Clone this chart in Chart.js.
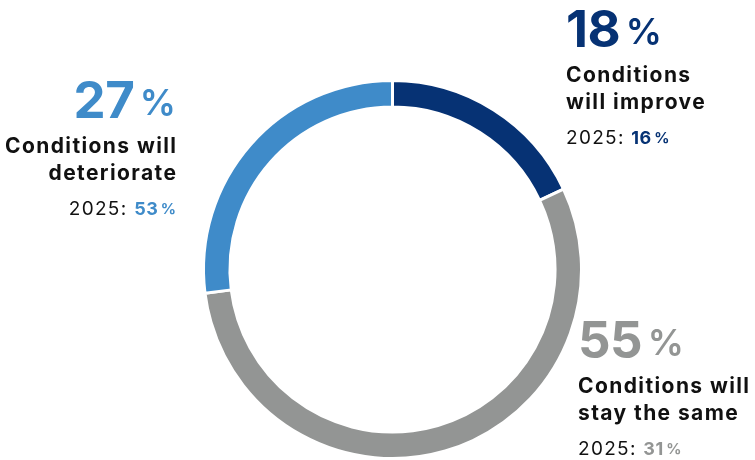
<!DOCTYPE html>
<html>
<head>
<meta charset="utf-8">
<script src="https://cdn.jsdelivr.net/npm/chart.js@4/dist/chart.umd.min.js"></script>
<style>
  html, body { margin: 0; padding: 0; background: #ffffff; }
  #wrap { width: 755px; height: 460px; }
</style>
</head>
<body>
<div id="wrap"><canvas id="c" width="755" height="460"></canvas></div>
<script>
// Outlook shares (percent), current survey and the 2025 comparison
const categories = ['Conditions will improve', 'Conditions will stay the same', 'Conditions will deteriorate'];
const labelLines = [['Conditions', 'will improve'], ['Conditions will', 'stay the same'], ['Conditions will', 'deteriorate']];
const shares = [18, 55, 27];
const shares2025 = [16, 31, 53];
const compareYear = '2025';
const sliceColors = ['#063274', '#939594', '#3f8bc9'];

const FONT = 'Inter, "Noto Sans", sans-serif';

// Text blocks placed around the ring: anchor x, baseline of the big figure, alignment
const blocks = [
  { x: 566, y: 47, align: 'left' },
  { x: 578, y: 358, align: 'left' },
  { x: 176, y: 118, align: 'right' }
];

function textWidth(ctx, s, font, spacing) {
  ctx.font = font;
  ctx.letterSpacing = spacing + 'px';
  // trailing spacing after the last glyph is not visible
  return ctx.measureText(s).width - (s.length ? spacing : 0);
}

function drawText(ctx, s, x, y, font, spacing, color) {
  ctx.font = font;
  ctx.letterSpacing = spacing + 'px';
  ctx.fillStyle = color;
  ctx.fillText(s, x, y);
}

const calloutPlugin = {
  id: 'callouts',
  afterDraw(chart) {
    const ctx = chart.ctx;
    ctx.save();
    ctx.textBaseline = 'alphabetic';
    ctx.textAlign = 'left';
    const bigFont = '700 51px ' + FONT;
    const pctFont = '600 36px ' + FONT;
    const labelFont = '700 21px ' + FONT;
    const labelSp = 1.4;
    const preFont = '400 19px ' + FONT;
    const preSp = 1.3;
    const valFont = '700 18px ' + FONT;
    const smallPctFont = '700 15px ' + FONT;

    blocks.forEach((b, i) => {
      const color = sliceColors[i];
      // big share figure with a smaller percent sign
      const num = String(shares[i]);
      const wNum = textWidth(ctx, num, bigFont, -0.5);
      const wPct = textWidth(ctx, '%', pctFont, 0);
      const gap = 5;
      const total = wNum + gap + wPct;
      const x0 = b.align === 'right' ? b.x - total : b.x;
      drawText(ctx, num, x0, b.y, bigFont, -0.5, color);
      drawText(ctx, '%', x0 + wNum + gap, b.y - 3, pctFont, 0, color);

      // two-line category label
      labelLines[i].forEach((line, k) => {
        const w = textWidth(ctx, line, labelFont, labelSp);
        const lx = b.align === 'right' ? b.x - w : b.x;
        drawText(ctx, line, lx, b.y + 35 + k * 27, labelFont, labelSp, '#111111');
      });

      // comparison line: "2025: NN %"
      const pre = compareYear + ': ';
      const val = String(shares2025[i]);
      const wPre = textWidth(ctx, pre, preFont, preSp) + preSp;
      const wVal = textWidth(ctx, val, valFont, 0.5);
      const wP = textWidth(ctx, '%', smallPctFont, 0);
      const tw = wPre + wVal + 3 + wP;
      const cx = b.align === 'right' ? b.x - tw : b.x;
      const cy = b.y + 97;
      drawText(ctx, pre, cx, cy, preFont, preSp, '#111111');
      drawText(ctx, val, cx + wPre, cy, valFont, 0.5, color);
      drawText(ctx, '%', cx + wPre + wVal + 3, cy - 1, smallPctFont, 0, color);
    });
    ctx.restore();
  }
};

new Chart(document.getElementById('c'), {
  type: 'doughnut',
  data: {
    labels: categories,
    datasets: [{
      data: shares,
      backgroundColor: sliceColors,
      borderColor: '#ffffff',
      borderWidth: 3,
      hoverOffset: 0
    }]
  },
  options: {
    responsive: false,
    animation: false,
    cutout: '86%',
    rotation: 0,
    layout: { padding: { left: 202, right: 172, top: 79, bottom: 0 } },
    plugins: {
      legend: { display: false },
      tooltip: { enabled: false }
    }
  },
  plugins: [calloutPlugin]
});
</script>
</body>
</html>
